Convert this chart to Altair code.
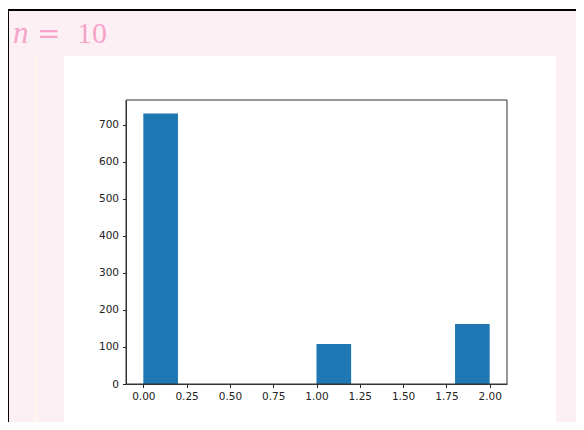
import altair as alt
import pandas as pd

# Histogram data (bin edges of width 0.2 from 0 to 2)
bin_start = [0.0, 0.2, 0.4, 0.6, 0.8, 1.0, 1.2, 1.4, 1.6, 1.8]
bin_end = [0.2, 0.4, 0.6, 0.8, 1.0, 1.2, 1.4, 1.6, 1.8, 2.0]
counts = [730, 0, 0, 0, 0, 108, 0, 0, 0, 162]
x_ticks = [0.0, 0.25, 0.5, 0.75, 1.0, 1.25, 1.5, 1.75, 2.0]
y_ticks = [0, 100, 200, 300, 400, 500, 600, 700]

df = pd.DataFrame({"start": bin_start, "end": bin_end, "count": counts})
one = pd.DataFrame({"k": [0]})

W, H = 381, 284
PINK_BG = "#fdf0f5"
PINK_TXT = "#f6a3c8"

base = alt.Chart(one)

black = base.mark_rect(color="black").encode(
    x=alt.value(-118), x2=alt.value(700), y=alt.value(-91), y2=alt.value(700))
pink = base.mark_rect(color=PINK_BG).encode(
    x=alt.value(-117), x2=alt.value(700), y=alt.value(-89), y2=alt.value(700))
stripe = base.mark_rect(color="#fdf3f1").encode(
    x=alt.value(-92), x2=alt.value(-88), y=alt.value(-44), y2=alt.value(323))
white = base.mark_rect(color="white").encode(
    x=alt.value(-62), x2=alt.value(430), y=alt.value(-44), y2=alt.value(324))

t_n = base.mark_text(text="n", font="Liberation Serif", fontStyle="italic", fontSize=31,
                     color=PINK_TXT, align="left", baseline="alphabetic").encode(
    x=alt.value(-113), y=alt.value(-57))
t_eq = base.mark_text(text="=", font="DejaVu Serif", fontSize=28,
                      color=PINK_TXT, align="left", baseline="alphabetic").encode(
    x=alt.value(-89), y=alt.value(-57))
t_10 = base.mark_text(text="10", font="Liberation Serif", fontSize=30,
                      color=PINK_TXT, align="left", baseline="alphabetic").encode(
    x=alt.value(-49), y=alt.value(-57))

axis_style = dict(title=None, grid=False, tickSize=3.5, labelPadding=4,
                  labelFontSize=10.5, labelFont="DejaVu Sans", labelColor="#222",
                  tickColor="#222", domainColor="#333", domainWidth=1,
                  zindex=1, labelFlush=False)

bars = alt.Chart(df).mark_rect(color="#1f77b4").encode(
    x=alt.X("start:Q", scale=alt.Scale(domain=[-0.1, 2.1], nice=False, zero=False),
            axis=alt.Axis(values=x_ticks, format=".2f", **axis_style)),
    x2="end:Q",
    y=alt.Y("count:Q", scale=alt.Scale(domain=[0, 766.5], nice=False),
            axis=alt.Axis(values=y_ticks, **axis_style)),
    y2=alt.datum(0),
)

frame = base.mark_rect(fill=None, stroke="#333", strokeWidth=1).encode(
    x=alt.value(0), x2=alt.value(W), y=alt.value(0), y2=alt.value(H))

chart = alt.layer(black, pink, stripe, white, t_n, t_eq, t_10, bars, frame).properties(
    width=W, height=H,
    autosize=alt.AutoSizeParams(type="none"),
    padding={"left": 118, "top": 92, "right": 69, "bottom": 38},
    background="white",
).configure_view(stroke=None)

chart.save("out.html", embed_options={"renderer": "svg", "actions": False})
